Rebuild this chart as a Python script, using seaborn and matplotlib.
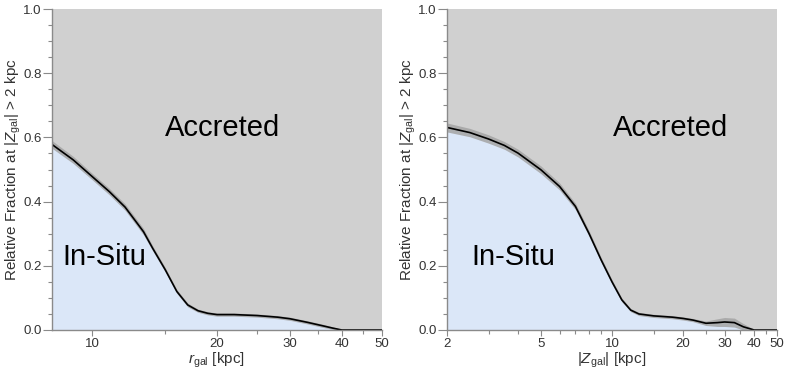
import numpy as np
import pandas as pd
import matplotlib
matplotlib.use('Agg')
import matplotlib.pyplot as plt
import seaborn as sns
from matplotlib.ticker import FixedLocator, NullFormatter, FixedFormatter

# Left panel: in-situ fraction vs galactocentric radius
r_gal = [8, 9, 10, 11, 12, 12.9, 13.3, 14, 15, 16, 17, 18, 19, 20, 22, 25, 28, 30, 33, 36, 38, 40, 50]
frac_r = [0.578, 0.530, 0.478, 0.431, 0.383, 0.329, 0.306, 0.254, 0.188, 0.120, 0.078, 0.060,
          0.052, 0.048, 0.048, 0.045, 0.040, 0.035, 0.024, 0.013, 0.006, 0.0, 0.0]
err_r = [0.012, 0.011, 0.010, 0.010, 0.010, 0.010, 0.010, 0.008, 0.007, 0.006, 0.006, 0.005,
         0.005, 0.005, 0.005, 0.005, 0.005, 0.005, 0.005, 0.005, 0.004, 0.002, 0.0]

# Right panel: in-situ fraction vs height above the plane
z_gal = [2, 2.5, 3, 3.5, 4, 5, 6, 7, 8, 9, 10, 11, 12, 13, 15, 18, 20, 22, 25, 28, 30, 33, 36, 40, 50]
frac_z = [0.631, 0.615, 0.595, 0.575, 0.551, 0.499, 0.447, 0.385, 0.300, 0.218, 0.150, 0.094,
          0.062, 0.050, 0.044, 0.040, 0.036, 0.031, 0.021, 0.023, 0.025, 0.023, 0.010, 0.0, 0.0]
err_z = [0.014, 0.013, 0.013, 0.012, 0.012, 0.012, 0.011, 0.010, 0.009, 0.008, 0.007, 0.006,
         0.005, 0.005, 0.005, 0.005, 0.005, 0.005, 0.007, 0.012, 0.014, 0.014, 0.010, 0.002, 0.0]

r_major = [10, 20, 30, 40, 50]
r_minor = [15, 25, 35, 45]
z_major = [2, 5, 10, 20, 30, 40, 50]
z_minor = [3, 4, 6, 7, 8, 9, 15, 25, 35, 45]

sns.set_style('ticks')
plt.rcParams['font.family'] = ['Liberation Sans', 'DejaVu Sans']
plt.rcParams['mathtext.fontset'] = 'custom'
plt.rcParams['mathtext.rm'] = 'Liberation Sans'
plt.rcParams['mathtext.it'] = 'Liberation Sans:italic'

gray_bg = '#d0d0d0'
blue_fill = '#dbe7f8'
band_col = '#a4a4a4'
axis_col = '#8a8a8a'
label_col = '#333333'

fig = plt.figure(figsize=(7.89, 3.76), dpi=100)
ax1 = fig.add_axes([52 / 789, 46 / 376, 330 / 789, 321 / 376])
ax2 = fig.add_axes([447 / 789, 46 / 376, 330 / 789, 321 / 376])

panels = [
    (ax1, r_gal, frac_r, err_r, (8, 50), r_major, r_minor,
     r'$r_{\rm gal}$ [kpc]', (0.517, 0.63), (0.16, 0.228)),
    (ax2, z_gal, frac_z, err_z, (2, 50), z_major, z_minor,
     r'|$Z_{\rm gal}$| [kpc]', (0.677, 0.63), (0.20, 0.228)),
]

for ax, x, y, e, xlim, major, minor, xlabel, acc_pos, ins_pos in panels:
    df = pd.DataFrame({'x': x, 'y': y, 'e': e})
    ax.set_facecolor(gray_bg)
    ax.fill_between(df['x'], 0, df['y'], color=blue_fill, lw=0, zorder=1)
    ax.fill_between(df['x'], df['y'] - df['e'], df['y'] + df['e'],
                    color=band_col, alpha=0.85, lw=0, zorder=2)
    sns.lineplot(data=df, x='x', y='y', ax=ax, color='black', lw=1.2, zorder=3)

    ax.set_xscale('log')
    ax.set_xlim(*xlim)
    ax.set_ylim(0, 1)
    ax.xaxis.set_major_locator(FixedLocator(major))
    ax.xaxis.set_major_formatter(FixedFormatter([str(v) for v in major]))
    ax.xaxis.set_minor_locator(FixedLocator(minor))
    ax.xaxis.set_minor_formatter(NullFormatter())
    ax.set_yticks(np.arange(0, 1.01, 0.2))
    ax.set_yticklabels([f'{v:.1f}' for v in np.arange(0, 1.01, 0.2)])
    ax.yaxis.set_minor_locator(FixedLocator(np.arange(0, 1.001, 0.05)))

    for side in ['top', 'right']:
        ax.spines[side].set_visible(False)
    for side in ['left', 'bottom']:
        ax.spines[side].set_color(axis_col)
        ax.spines[side].set_linewidth(1.0)
        ax.spines[side].set_zorder(5)

    ax.tick_params(axis='y', which='major', length=6.5, width=0.8, color=axis_col,
                   labelcolor=label_col, labelsize=9.5, pad=1)
    ax.tick_params(axis='y', which='minor', length=3, width=0.8, color=axis_col)
    ax.tick_params(axis='x', which='major', length=4, width=0.8, color=axis_col,
                   labelcolor=label_col, labelsize=9.5, pad=2)
    ax.tick_params(axis='x', which='minor', length=3, width=0.8, color=axis_col)

    ax.set_xlabel(xlabel, fontsize=11, color=label_col, labelpad=0)
    ax.set_ylabel(r'Relative Fraction at |$Z_{\rm gal}$| > 2 kpc', fontsize=11,
                  color=label_col)
    ax.yaxis.set_label_coords(-0.088, 0.5)

    ax.text(*acc_pos, 'Accreted', transform=ax.transAxes, fontsize=21,
            ha='center', va='center', color='black', zorder=6)
    ax.text(*ins_pos, 'In-Situ', transform=ax.transAxes, fontsize=21,
            ha='center', va='center', color='black', zorder=6)

fig.savefig('out.png', dpi=100)
